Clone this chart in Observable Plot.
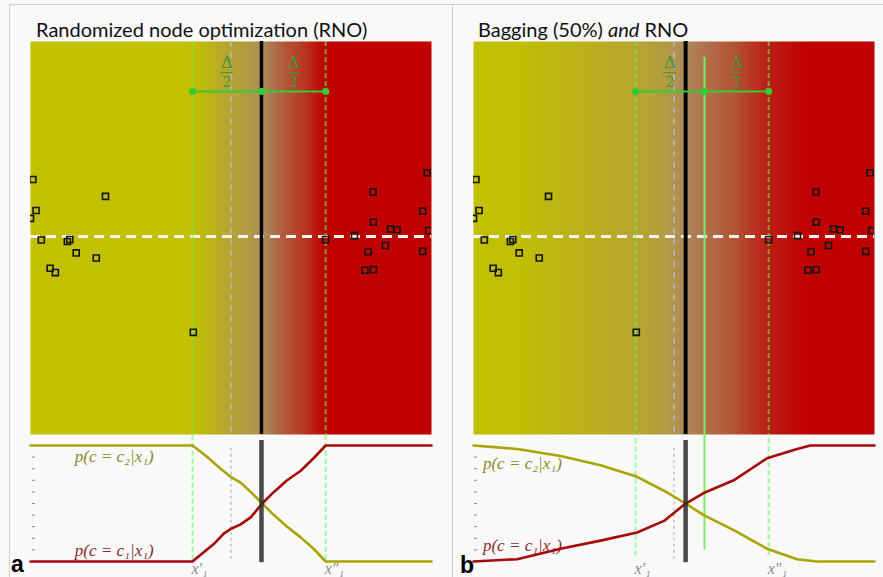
<!DOCTYPE html>
<html><head><meta charset="utf-8">
<script src="https://cdn.jsdelivr.net/npm/d3@7"></script>
<script src="https://cdn.jsdelivr.net/npm/@observablehq/plot@0.6"></script>
<style>
html,body{margin:0;padding:0;background:#f9f9f9;}
#fig{position:relative;width:883px;height:577px;overflow:hidden;background:#f9f9f9;font-family:Lato,"Open Sans",sans-serif;}
.ln{position:absolute;background:#cfcfcf;}
.title{position:absolute;font-size:20px;line-height:20px;color:#111;white-space:nowrap;}
.lab{position:absolute;font-size:23px;font-weight:bold;line-height:23px;color:#000;font-family:"Liberation Sans",Arial,sans-serif;}
#fig svg{position:absolute;}
</style></head>
<body><div id="fig">
<div class="ln" style="left:9px;top:4px;width:874px;height:1px"></div>
<div class="ln" style="left:9px;top:4px;width:1px;height:573px"></div>
<div class="ln" style="left:452px;top:4px;width:1px;height:573px"></div>
<div class="title" style="left:36px;top:19px">Randomized node optimization (RNO)</div>
<div class="title" style="left:478px;top:19px">Bagging (50%) <i>and</i> RNO</div>
<div class="lab" style="left:11px;top:553px">a</div>
<div class="lab" style="left:460px;top:554px">b</div>
</div>
<script>
// ---------- data ----------
// training samples in feature space (x1, x2), same in both panels
const ptX = [0.06,1.87,0.14,0.0,0.27,0.92,0.98,1.14,1.64,0.49,0.62,4.06, 7.36,9.89,8.54,9.78,8.55,8.98,9.14,9.93,8.08,8.42,8.85,9.78,8.34,8.55];
const ptY = [6.49,6.06,5.70,5.50,4.95,4.91,4.96,4.62,4.49,4.23,4.12,2.60, 4.96,6.66,6.17,5.68,5.40,5.23,5.21,5.19,5.06,4.65,4.81,4.66,4.18,4.20];
const secondFeature = 5.04;            // white dashed line
const splits = [4.04, 5.76, 7.36];     // x1', centre, x1''
const grayLine = 5.0;
const thresholdA = 5.76, thresholdB = 5.29;
const segmentY = 8.73;
const deltaX = [4.9, 6.56];
const deltaY = [9.47, 9.21, 8.96];     // numerator, bar, denominator
// posteriors, panel a
const curveXA_c2 = [0, 4.04, 4.41, 4.74, 4.99, 5.24, 5.49, 5.78, 6.07, 6.40, 6.73, 7.06, 7.36, 10];
const pA_c2      = [1, 1,    0.90, 0.80, 0.73, 0.68, 0.60, 0.50, 0.40, 0.30, 0.21, 0.11, 0,    0];
const curveXA_c1 = [0, 4.04, 4.32, 4.57, 4.82, 4.99, 5.24, 5.49, 5.78, 6.07, 6.40, 6.73, 7.06, 7.36, 10];
const pA_c1      = [0, 0,    0.08, 0.15, 0.24, 0.28, 0.32, 0.38, 0.50, 0.60, 0.70, 0.78, 0.89, 1,    1];
// posteriors, panel b
const curveXB = [0, 1.09, 2.17, 3.17, 4.08, 4.75, 5.29, 5.74, 6.49, 7.32, 8.07, 8.57, 10];
const pB_c2   = [1, 0.97, 0.91, 0.83, 0.73, 0.61, 0.50, 0.40, 0.27, 0.11, 0.02, 0,    0];
const curveXB1= [0, 1.09, 2.17, 3.17, 4.08, 4.75, 5.29, 5.74, 6.49, 7.32, 8.07, 8.40, 10];
const pB_c1   = [0, 0.02, 0.11, 0.18, 0.25, 0.35, 0.50, 0.59, 0.70, 0.89, 0.97, 1,    1];
const pTicks = [0.1,0.2,0.3,0.4,0.5,0.6,0.7,0.8,0.9];
const labelC2 = "p(c = c₂|x₁)", labelC1 = "p(c = c₁|x₁)";
const splitLabels = ["x′₁", "x″₁"];

const YEL = "#c2c000", TAN = "#ac8c5c", RED = "#c00000";
const GREEN = "#33cc33", LGREEN = "#55ff55";
const points = ptX.map((x, i) => ({x, y: ptY[i]}));

function panel(o) {
  const fig = document.getElementById("fig");
  const heat = o.hx.flatMap((x, i) => [{x, y: 0, p: o.hp[i]}, {x, y: 10, p: o.hp[i]}]);
  const top = Plot.plot({
    width: 441, height: 434, marginLeft: 30, marginRight: 10, marginTop: 41, marginBottom: 0,
    style: "background:transparent;overflow:visible;",
    x: {domain: [0, 10], axis: null},
    y: {domain: [0, 10], axis: null},
    color: {type: "linear", domain: [0, 0.5, 1], range: [YEL, TAN, RED], interpolate: "rgb"},
    marks: [
      Plot.raster(heat, {x: "x", y: "y", fill: "p", interpolate: "barycentric"}),
      Plot.ruleX([grayLine], {stroke: "#b8b8b8", strokeWidth: 1.5, strokeDasharray: "6,5"}),
      Plot.ruleY([secondFeature], {stroke: "#f4f4f4", strokeWidth: 3, strokeDasharray: "10,6"}),
      Plot.ruleX([o.thr], {stroke: "#000", strokeWidth: o.thrW}),
      Plot.ruleX([splits[0], splits[2]], {stroke: LGREEN, strokeOpacity: 0.6, strokeWidth: 2, strokeDasharray: "5,3"}),
      o.solid ? Plot.ruleX([splits[1]], {y1: 0, y2: 9.6, stroke: "#77ee66", strokeWidth: 2}) : null,
      Plot.dot(points, {x: "x", y: "y", symbol: "square", r: 3.4, stroke: "#151515", strokeWidth: 1.6, clip: true}),
      Plot.ruleY([segmentY], {x1: splits[0], x2: splits[2], stroke: GREEN, strokeWidth: 2}),
      Plot.dot(splits, {x: d => d, y: () => segmentY, r: 3.6, fill: GREEN}),
      Plot.text(deltaX, {x: d => d, y: () => deltaY[0], text: () => "Δ", fontFamily: "DejaVu Serif", fontSize: 17, fill: "#3c9a3c"}),
      Plot.ruleY(deltaX, {x1: d => d - 0.16, x2: d => d + 0.16, y: () => deltaY[1], stroke: "#3c9a3c", strokeWidth: 1}),
      Plot.text(deltaX, {x: d => d, y: () => deltaY[2], text: () => "2", fontFamily: "DejaVu Serif", fontSize: 14, fill: "#3c9a3c"})
    ]
  });
  top.style.left = o.left + "px"; top.style.top = "0px";
  fig.appendChild(top);

  const c2 = o.cx2.map((x, i) => ({x, p: o.cp2[i]}));
  const c1 = o.cx1.map((x, i) => ({x, p: o.cp1[i]}));
  const bottom = Plot.plot({
    width: 441, height: 143, marginLeft: 30, marginRight: 10, marginTop: 0, marginBottom: 14,
    style: "background:transparent;overflow:visible;",
    x: {domain: [0, 10], axis: null},
    y: {domain: [-0.0172, 1.0948], axis: null},
    marks: [
      Plot.axisY(pTicks, {anchor: "left", tickSize: 3, dx: o.tickDx, tickFormat: () => "", label: null, stroke: "#8a8a8a"}),
      Plot.ruleX([grayLine], {y1: 0.02, y2: 1.0, stroke: "#c4c4c4", strokeWidth: 1.5, strokeDasharray: "3,3"}),
      Plot.ruleX([splits[0], splits[2]], {y1: o.dashBottom, y2: 1.0948, stroke: LGREEN, strokeOpacity: 0.6, strokeWidth: 2, strokeDasharray: "5,3"}),
      o.solid ? Plot.ruleX([splits[1]], {y1: 0.1, y2: 1.0948, stroke: "#77ee66", strokeWidth: 2}) : null,
      Plot.text([labelC2], {x: () => o.labX, y: () => o.labY2, text: d => d, fontFamily: "Liberation Serif", fontStyle: "italic", fontSize: 17, fill: "#8a8a28", stroke: "#f9f9f9", strokeWidth: 3, textAnchor: "middle"}),
      Plot.text([labelC1], {x: () => o.labX, y: () => o.labY1, text: d => d, fontFamily: "Liberation Serif", fontStyle: "italic", fontSize: 17, fill: "#8a2a2a", stroke: "#f9f9f9", strokeWidth: 3, textAnchor: "middle"}),
      Plot.line(c2, {x: "x", y: "p", stroke: "#aaa400", strokeWidth: 2.6}),
      Plot.line(c1, {x: "x", y: "p", stroke: "#a80808", strokeWidth: 2.6}),
      Plot.ruleX([o.thr], {y1: -0.01, y2: 1.043, stroke: "#2a2a2a", strokeOpacity: 0.85, strokeWidth: 4.5}),
      Plot.text(splitLabels, {x: (d, i) => splits[i * 2], y: () => 0, dy: 7, dx: -1, text: d => d, textAnchor: "start", fontFamily: "Liberation Serif", fontStyle: "italic", fontSize: 16, fill: "#8a8a8a"})
    ]
  });
  bottom.style.left = o.left + "px"; bottom.style.top = "434px";
  fig.appendChild(bottom);
}

panel({left: 0, hx: curveXA_c1, hp: pA_c1, thr: thresholdA, thrW: 3.5, solid: false,
       cx2: curveXA_c2, cp2: pA_c2, cx1: curveXA_c1, cp1: pA_c1, tickDx: 5, dashBottom: 0.01,
       labX: 2.09, labY2: 0.905, labY1: 0.095});
panel({left: 443, hx: curveXB1, hp: pB_c1, thr: thresholdB, thrW: 4, solid: true,
       cx2: curveXB, cp2: pB_c2, cx1: curveXB1, cp1: pB_c1, tickDx: 4, dashBottom: 0.05,
       labX: 1.22, labY2: 0.845, labY1: 0.138});
</script>
</body></html>
